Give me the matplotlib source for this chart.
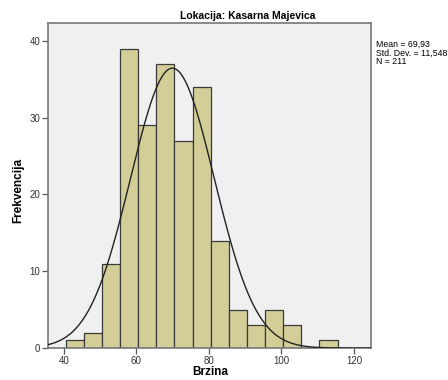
import matplotlib
matplotlib.use("Agg")
import matplotlib.pyplot as plt
import numpy as np

plt.rcParams['font.family'] = ['Liberation Sans', 'DejaVu Sans']

# Histogram of speeds (bin edges and counts per 5 km/h bin)
bin_edges = [40.5, 45.5, 50.5, 55.5, 60.5, 65.5, 70.5, 75.5, 80.5, 85.5,
             90.5, 95.5, 100.5, 105.5, 110.5, 115.5]
counts = [1, 2, 11, 39, 29, 37, 27, 34, 14, 5, 3, 5, 3, 0, 1]
mean = 69.93
std_dev = 11.548
n = 211

fig = plt.figure(figsize=(4.48, 3.8), dpi=100)
ax = fig.add_axes([0.107, 0.084, 0.721, 0.855])
ax.set_facecolor('#F0F0F0')

lefts = np.array(bin_edges[:-1])
widths = np.diff(bin_edges)
ax.bar(lefts, counts, width=widths, align='edge', color='#D3CE98',
       edgecolor='#3A3A3A', linewidth=0.9, zorder=2)

# Normal curve scaled to counts
xs = np.linspace(35.6, 124.7, 400)
bw = widths[0]
ys = n * bw / (std_dev * np.sqrt(2 * np.pi)) * np.exp(-0.5 * ((xs - mean) / std_dev) ** 2)
ax.plot(xs, ys, color='#222222', linewidth=1.0, zorder=3)

ax.set_xlim(35.6, 124.7)
ax.set_ylim(0, 42.3)
ax.set_xticks([40, 60, 80, 100, 120])
ax.set_yticks([0, 10, 20, 30, 40])
ax.tick_params(labelsize=7, length=4, width=0.9, color='#555555',
               labelcolor='#333333', pad=1.5)
for s in ax.spines.values():
    s.set_color('#777777')
    s.set_linewidth(1.2)

fig.text(248 / 448, 1 - 16 / 380, 'Lokacija: Kasarna Majevica', ha='center',
         va='center', fontsize=7.5, fontweight='bold')
fig.text(18 / 448, 0.5, 'Frekvencija', ha='center', va='center',
         rotation=90, fontsize=8.5, fontweight='bold')
fig.text(210 / 448, 1 - 372 / 380, 'Brzina', ha='center', va='center',
         fontsize=8.5, fontweight='bold')

stats = f"Mean = {str(mean).replace('.', ',')}\nStd. Dev. = {str(std_dev).replace('.', ',')}\nN = {n}"
fig.text(376 / 448, 1 - 40 / 380, stats, ha='left', va='top',
         fontsize=6.3, linespacing=0.95)

fig.savefig('out.png', dpi=100)
